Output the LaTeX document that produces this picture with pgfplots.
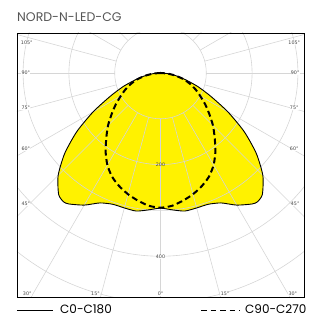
\documentclass[border=0pt]{standalone}
\usepackage{pgfplots}
\pgfplotsset{compat=1.18}
\usepackage{pgfplotstable}
\usepackage{fontspec}
\setmainfont{Poppins}
\newfontfamily\lblfont{DejaVu Sans}
\definecolor{gridc}{HTML}{D6D6D6}
\definecolor{titlec}{HTML}{555555}
\definecolor{lblc}{HTML}{444444}

% C0-C180 : angle (deg from nadir), intensity
\pgfplotstableread{
a I
-90 0
-85 16
-80 34
-75 56
-70 87
-65 122
-60 170
-55 223
-50 273
-45 316
-40 346
-37 352
-35 349
-30 333
-25 313
-20 305
-15 305
-10 306
-5 300
0 295
5 300
10 306
15 305
20 305
25 313
30 333
35 349
37 352
40 346
45 316
50 273
55 223
60 170
65 122
70 87
75 56
80 34
85 16
90 0
}\czero

% C90-C270
\pgfplotstableread{
a I
-90 0
-85 16
-80 33
-75 52
-70 68
-65 84
-60 100
-55 119
-50 139
-45 162
-40 184
-35 209
-30 232
-25 250
-20 263
-15 274
-10 283
-5 291
0 294
5 291
10 283
15 274
20 263
25 250
30 232
35 209
40 184
45 162
50 139
55 119
60 100
65 84
70 68
75 52
80 33
85 16
90 0
}\cninety

\begin{document}
\begin{tikzpicture}
\useasboundingbox (-17pt,-21pt) rectangle (304pt,297pt);
\begin{axis}[
  at={(0pt,0pt)}, anchor=south west,
  scale only axis, width=287pt, height=264pt,
  xmin=-313.3, xmax=313.3, ymin=-489, ymax=87.3,
  xtick=\empty, ytick=\empty,
  axis line style={black, line width=0.7pt},
  axis on top,
]
\addplot[fill=yellow, draw=none, smooth, tension=0.4]
  table[x expr={\thisrow{I}*sin(\thisrow{a})}, y expr={-\thisrow{I}*cos(\thisrow{a})}] {\czero};
\pgfplotsinvokeforeach{100,200,300,400,500,600}{
  \draw[gridc, line width=0.6pt] (axis cs:0,0) circle[radius=#1];
}
\pgfplotsinvokeforeach{0,15,...,345}{
  \draw[gridc, line width=0.6pt] (axis cs:{100*sin(#1)},{-100*cos(#1)}) -- (axis cs:{900*sin(#1)},{-900*cos(#1)});
}
\addplot[black, line width=0.9pt, smooth, tension=0.4]
  table[x expr={\thisrow{I}*sin(\thisrow{a})}, y expr={-\thisrow{I}*cos(\thisrow{a})}] {\czero};
\addplot[black, line width=2pt, dash pattern=on 6pt off 3.5pt, smooth, tension=0.4]
  table[x expr={\thisrow{I}*sin(\thisrow{a})}, y expr={-\thisrow{I}*cos(\thisrow{a})}] {\cninety};
\begin{scope}[every node/.style={font=\lblfont\fontsize{4.8}{5}\selectfont, text=lblc, inner sep=0.4pt}]
\node[fill=white] at (axis cs:-292,65.5) {105°};
\node[fill=white] at (axis cs:-294,0) {90°};
\node[fill=white] at (axis cs:-294,-76) {75°};
\node[fill=white] at (axis cs:-294,-166) {60°};
\node[fill=white] at (axis cs:-294,-286) {45°};
\node[fill=white] at (axis cs:292,65.5) {105°};
\node[fill=white] at (axis cs:294,0) {90°};
\node[fill=white] at (axis cs:292,-76) {75°};
\node[fill=white] at (axis cs:292,-166) {60°};
\node[fill=white] at (axis cs:294,-286) {45°};
\node[fill=white] at (axis cs:-291,-482) {30°};
\node[fill=white] at (axis cs:-142,-482) {15°};
\node[fill=white] at (axis cs:0,-482) {0°};
\node[fill=white] at (axis cs:141,-482) {15°};
\node[fill=white] at (axis cs:289,-482) {30°};
\node at (axis cs:0,-201) {200};
\node[fill=white] at (axis cs:0,-402) {400};
\end{scope}
\end{axis}
\node[anchor=base west, inner sep=0pt, text=titlec, font=\fontsize{12.5}{14}\selectfont] at (0pt,275pt) {NORD-N-LED-CG};
\draw[black, line width=0.8pt] (0pt,-13pt) -- (35.5pt,-13pt);
\node[anchor=base west, inner sep=0pt, text depth=0pt, font=\fontsize{12}{13}\selectfont] at (43pt,-16.8pt) {C0-C180};
\draw[black, line width=0.8pt, dash pattern=on 5.5pt off 4pt] (184pt,-13pt) -- (223pt,-13pt);
\node[anchor=base west, inner sep=0pt, text depth=0pt, font=\fontsize{12}{13}\selectfont] at (228pt,-16.8pt) {C90-C270};
\end{tikzpicture}
\end{document}
